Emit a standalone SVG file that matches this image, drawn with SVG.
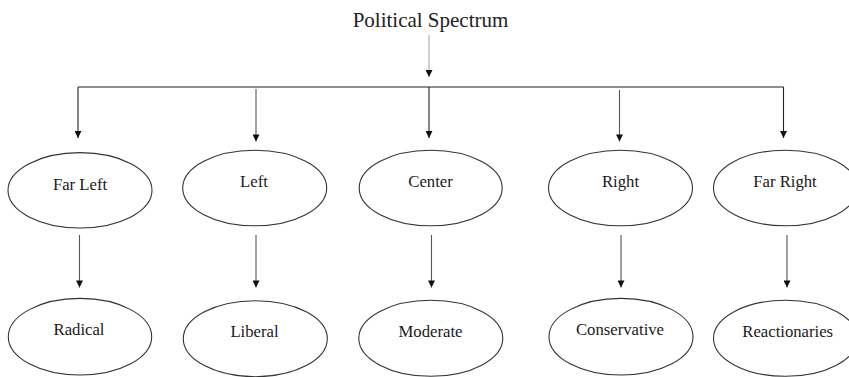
<svg xmlns="http://www.w3.org/2000/svg" width="849" height="377" viewBox="0 0 849 377">
<defs>
<marker id="ah" viewBox="0 0 10 10" refX="10" refY="5" markerWidth="9" markerHeight="7" markerUnits="userSpaceOnUse" orient="auto">
<path d="M0,0 L10,5 L0,10 z" fill="#111"/>
</marker>
</defs>
<style>
.shape{fill:#fff;stroke:#333;stroke-width:1.1}
.lbl{font-family:'Liberation Serif','Times New Roman',serif;font-size:16.7px;fill:#1a1a1a;text-anchor:middle}
.title{font-family:'Liberation Serif','Times New Roman',serif;font-size:21px;fill:#222;text-anchor:middle}
.conn line{stroke:#222;stroke-width:1.1;fill:none}
.conn .arr{marker-end:url(#ah)}
.conn .gray{stroke:#aaa}
.conn .soft{stroke:#555}
</style>
<rect width="849" height="377" fill="#fff"/>
<g id="title"><text class="title" x="430.5" y="27">Political Spectrum</text></g>
<g id="connectors" class="conn">
<line class="arr gray" x1="429" y1="35" x2="429" y2="77"/>
<line x1="78" y1="87" x2="783.5" y2="87"/>
<line class="arr" x1="78" y1="87" x2="78" y2="138"/>
<line class="arr soft" x1="256" y1="89" x2="256" y2="141.5"/>
<line class="arr" x1="429" y1="87" x2="429" y2="138"/>
<line class="arr soft" x1="619.5" y1="90" x2="619.5" y2="141.5"/>
<line class="arr" x1="783.5" y1="87" x2="783.5" y2="138"/>
<line class="arr soft" x1="79.5" y1="235" x2="79.5" y2="287.5"/>
<line class="arr soft" x1="256" y1="235" x2="256" y2="287.5"/>
<line class="arr soft" x1="431.5" y1="235" x2="431.5" y2="287.5"/>
<line class="arr soft" x1="621" y1="235" x2="621" y2="287.5"/>
<line class="arr soft" x1="787" y1="235" x2="787" y2="287.5"/>
</g>
<g font-family="'Liberation Serif', 'Times New Roman', serif">
<g id="far-left"><ellipse class="shape" cx="80" cy="190.3" rx="72" ry="37.7"/><text class="lbl" x="80" y="190">Far Left</text></g>
<g id="left"><ellipse class="shape" cx="254.7" cy="188" rx="72" ry="37.8"/><text class="lbl" x="254" y="186.7">Left</text></g>
<g id="center"><ellipse class="shape" cx="430.7" cy="188" rx="71.5" ry="37.8"/><text class="lbl" x="430.5" y="187">Center</text></g>
<g id="right"><ellipse class="shape" cx="620.5" cy="188" rx="72" ry="37.8"/><text class="lbl" x="620.5" y="187">Right</text></g>
<g id="far-right"><ellipse class="shape" cx="785.5" cy="188" rx="72" ry="37.8"/><text class="lbl" x="785" y="187">Far Right</text></g>
<g id="radical"><ellipse class="shape" cx="80" cy="336.7" rx="71.7" ry="38.3"/><text class="lbl" x="79" y="335">Radical</text></g>
<g id="liberal"><ellipse class="shape" cx="255.3" cy="338.7" rx="72" ry="38"/><text class="lbl" x="254.5" y="337.3">Liberal</text></g>
<g id="moderate"><ellipse class="shape" cx="430.8" cy="338.3" rx="72" ry="38"/><text class="lbl" x="430.5" y="337.3">Moderate</text></g>
<g id="conservative"><ellipse class="shape" cx="621" cy="336.7" rx="72" ry="38.3"/><text class="lbl" x="620" y="335">Conservative</text></g>
<g id="reactionaries"><ellipse class="shape" cx="785.5" cy="338.3" rx="72" ry="38"/><text class="lbl" x="787.7" y="337.3">Reactionaries</text></g>
</g>
</svg>
